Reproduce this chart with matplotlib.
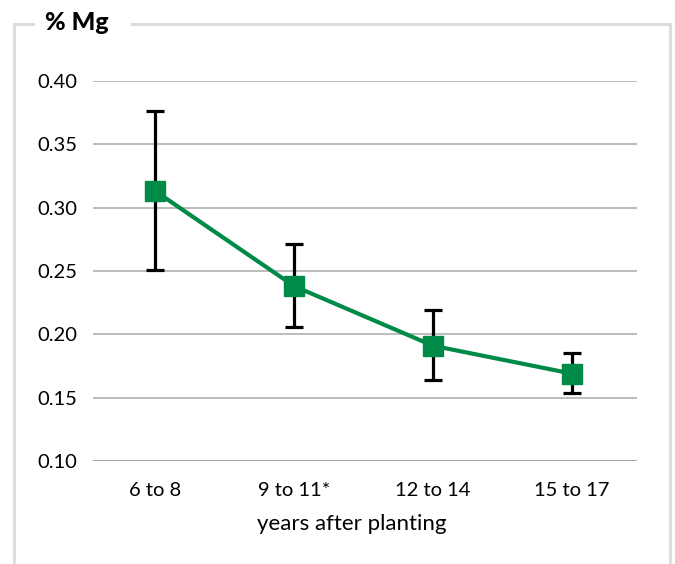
import numpy as np
from matplotlib import pyplot as plt
from matplotlib.lines import Line2D

# values
categories = ["6 to 8", "9 to 11*", "12 to 14", "15 to 17"]
mg_mean = [0.313, 0.238, 0.191, 0.169]
mg_high = [0.376, 0.271, 0.219, 0.185]
mg_low = [0.251, 0.206, 0.164, 0.154]
yticks = [0.10, 0.15, 0.20, 0.25, 0.30, 0.35, 0.40]

GREEN = "#008a48"
FRAME = "#dcdcdc"

plt.rcParams['font.family'] = ['Lato', 'DejaVu Sans']

fig = plt.figure(figsize=(6.75, 5.64), dpi=100)
W, H = 675, 564
ax = fig.add_axes([93 / W, 1 - 461 / H, (637 - 93) / W, (461 - 81) / H])

x = np.arange(len(categories))
mean = np.array(mg_mean)
err = [mean - np.array(mg_low), np.array(mg_high) - mean]

for y in yticks[1:]:
    ax.axhline(y, color="#b0b0b0", lw=1.2, zorder=0)
ax.axhline(yticks[0], color="#a8a8a8", lw=2.2, zorder=0)

ax.errorbar(x, mean, yerr=err, fmt="none", ecolor="black", elinewidth=2.3,
            capsize=6.5, capthick=2.3, zorder=2)
ax.plot(x, mean, color=GREEN, lw=3, marker="s", markersize=14, zorder=3)

ax.set_xlim(-0.45, 3.47)
ax.set_ylim(0.10, 0.40)
ax.set_yticks(yticks)
ax.set_yticklabels([f"{v:.2f}" for v in yticks], fontsize=14.5)
ax.set_xticks(x)
ax.set_xticklabels(categories, fontsize=14.5)
ax.tick_params(length=0)
ax.tick_params(axis="y", pad=11)
ax.tick_params(axis="x", pad=15)
for s in ax.spines.values():
    s.set_visible(False)
ax.set_xlabel("years after planting", fontsize=16)
ax.xaxis.set_label_coords((352 - 93) / (637 - 93), -(524 - 461) / (461 - 81))
ax.xaxis.label.set_va("center")

# frame around the chart, broken by the title
def px(xp, yp):
    return xp / W, 1 - yp / H

lw = 2.2
for (x0, y0), (x1, y1) in [((14, 24), (14, 570)), ((14, 24), (33, 24)),
                           ((132, 24), (670, 24)), ((670, 24), (670, 570))]:
    a, b = px(x0, y0)
    c, d = px(x1, y1)
    fig.add_artist(Line2D([a, c], [b, d], color=FRAME, lw=lw, transform=fig.transFigure))

fig.text(45 / W, 1 - 23 / H, "% Mg", fontsize=18, fontweight="black", va="center", ha="left")

fig.savefig("out.png", dpi=100)
